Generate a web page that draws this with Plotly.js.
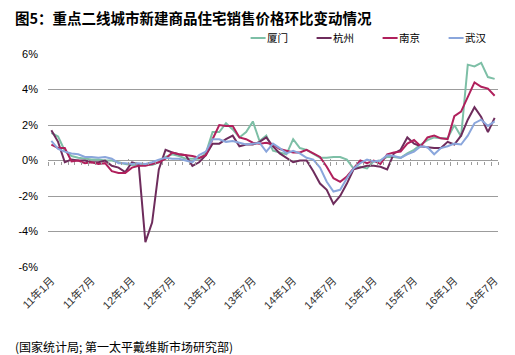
<!DOCTYPE html>
<html>
<head>
<meta charset="utf-8">
<script src="https://cdn.plot.ly/plotly-3.0.1.min.js"></script>
<style>
html,body{margin:0;padding:0;background:#ffffff;}
#chart{width:515px;height:355px;}
#chart .legend .legendlines path{transform:translateX(21px) scaleX(0.5);}
</style>
</head>
<body>
<div id="chart"></div>
<script>
// ---- categories ----
const months = [
  "11年1月","11年2月","11年3月","11年4月","11年5月","11年6月","11年7月","11年8月","11年9月","11年10月","11年11月","11年12月",
  "12年1月","12年2月","12年3月","12年4月","12年5月","12年6月","12年7月","12年8月","12年9月","12年10月","12年11月","12年12月",
  "13年1月","13年2月","13年3月","13年4月","13年5月","13年6月","13年7月","13年8月","13年9月","13年10月","13年11月","13年12月",
  "14年1月","14年2月","14年3月","14年4月","14年5月","14年6月","14年7月","14年8月","14年9月","14年10月","14年11月","14年12月",
  "15年1月","15年2月","15年3月","15年4月","15年5月","15年6月","15年7月","15年8月","15年9月","15年10月","15年11月","15年12月",
  "16年1月","16年2月","16年3月","16年4月","16年5月","16年6月","16年7月"
];
const tickMonths = ["11年1月","11年7月","12年1月","12年7月","13年1月","13年7月","14年1月","14年7月","15年1月","15年7月","16年1月","16年7月"];
const yTickVals = [-6,-4,-2,0,2,4,6];
const yTickText = ["-6%","-4%","-2%","0%","2%","4%","6%"];

// ---- series (month-on-month %) ----
const xiamen = [
  1.55, 1.35, 0.55, 0.25, 0.15, 0.1, 0.05, 0.05, 0.0, 0.0, -0.1, -0.2,
  -0.25, -0.3, -0.2, -0.25, -0.1, 0.2, 0.35, 0.25, 0.1, 0.1, 0.1, 0.4,
  1.6, 1.6, 2.1, 1.75, 1.3, 1.6, 2.2, 1.1, 1.4, 0.55, 0.45, 0.35,
  1.2, 0.7, 0.6, 0.35, 0.15, 0.15, 0.2, 0.2, 0.05, -0.45, -0.35, -0.45,
  -0.05, 0.0, 0.2, 0.2, 0.15, 0.4, 0.6, 0.9, 1.15, 1.3, 1.25, 1.25,
  2.0, 1.35, 5.4, 5.3, 5.5, 4.7, 4.6
];
const hangzhou = [
  1.7, 1.05, -0.1, 0.05, 0.0, 0.0, -0.1, -0.1, 0.0, -0.3, -0.4, -0.65,
  -0.1, -0.2, -4.6, -3.5, -0.5, 0.6, 0.45, 0.35, 0.3, -0.3, -0.1, 0.3,
  0.95, 0.95, 1.2, 1.4, 0.8, 0.9, 0.9, 1.05, 1.3, 0.8, 0.4, 0.15,
  -0.1, 0.0, 0.0, -0.6, -1.3, -1.65, -2.45, -2.0, -1.3, -0.5, -0.4, -0.3,
  -0.3, -0.35, -0.5, 0.4, 0.6, 1.3, 0.95, 0.8, 0.75, 0.7, 0.7, 1.05,
  0.9, 1.4, 2.3, 3.0, 2.45, 1.6, 2.4
];
const nanjing = [
  0.9, 0.7, 0.7, -0.05, 0.0, -0.15, -0.1, -0.2, -0.15, -0.6, -0.7, -0.7,
  -0.4, -0.3, -0.3, -0.2, -0.1, 0.1, 0.45, 0.35, 0.3, 0.25, 0.15, 0.3,
  1.2, 2.0, 1.95, 1.95, 1.3, 1.2, 1.0, 0.95, 1.0, 0.9, 0.65, 0.55,
  0.45, 0.45, 0.6, 0.4, 0.2, -0.35, -1.0, -1.2, -0.9, -0.45, 0.0, -0.15,
  0.0, -0.2, 0.35, 0.45, 0.5, 0.95, 1.15, 0.8, 1.3, 1.4, 1.25, 1.2,
  2.5, 2.75, 3.55, 4.4, 4.15, 4.05, 3.65
];
const wuhan = [
  1.1, 0.65, 0.5, 0.4, 0.35, 0.2, 0.2, 0.15, 0.2, 0.1, -0.15, -0.15,
  -0.2, -0.15, -0.2, -0.1, 0.05, 0.15, 0.1, 0.1, 0.0, -0.1, 0.3, 0.5,
  1.2, 1.2, 1.05, 1.1, 1.0, 0.9, 0.95, 1.0, 0.5, 0.95, 0.7, 0.4,
  0.55, 0.4, 0.15, 0.05, -0.4, -1.2, -1.75, -1.65, -1.0, -0.45, -0.15, 0.05,
  -0.05, 0.0, 0.3, 0.25, 0.15, 0.35, 0.5, 0.8, 0.75, 0.35, 0.7, 0.8,
  0.95, 0.9, 1.4, 2.1, 2.3, 1.95, 2.2
];
const seriesNames = ["厦门","杭州","南京","武汉"];
const seriesData = [xiamen, hangzhou, nanjing, wuhan];

// ---- styles ----
const seriesColors = ["#7dbfa6", "#6e2c5c", "#b0205c", "#8aa6dc"];
const numFont = "Liberation Sans, Arial, Noto Sans CJK SC, sans-serif";
const cjkFont = "Noto Sans CJK SC, sans-serif";
const gridCol = "#9c9c9c";

const traces = seriesData.map((vals, k) => ({
  type: "scatter",
  mode: "lines",
  name: seriesNames[k],
  x: months,
  y: vals,
  xaxis: "x",
  yaxis: "y",
  line: {color: seriesColors[k], width: 2},
  hoverinfo: "skip"
}));

// invisible helper traces so the tick-mark axes at 0% are built
const idx = months.map((m, k) => k);
traces.push({type: "scatter", mode: "lines", x: idx, y: xiamen, xaxis: "x2", yaxis: "y",
  opacity: 0, showlegend: false, hoverinfo: "skip", line: {width: 0}});
traces.push({type: "scatter", mode: "lines", x: idx, y: xiamen, xaxis: "x3", yaxis: "y",
  opacity: 0, showlegend: false, hoverinfo: "skip", line: {width: 0}});

const nCat = months.length;

const layout = {
  width: 515,
  height: 355,
  paper_bgcolor: "#ffffff",
  plot_bgcolor: "#ffffff",
  margin: {l: 48, r: 17, t: 54, b: 88, pad: 0},
  showlegend: true,
  title: {
    text: "<b>图5：重点二线城市新建商品住宅销售价格环比变动情况</b>",
    font: {family: cjkFont, size: 14.5, color: "#000000"},
    x: 15 / 515, xanchor: "left", xref: "container",
    y: 1 - 18.5 / 355, yanchor: "middle", yref: "container"
  },
  legend: {
    orientation: "h",
    x: 0.398, xanchor: "left",
    y: 1.075, yanchor: "middle",
    font: {family: cjkFont, size: 10.5, color: "#000000"},
    bgcolor: "rgba(0,0,0,0)",
    entrywidth: 21, entrywidthmode: "pixels",
    itemwidth: 30,
    traceorder: "normal"
  },
  xaxis: {
    type: "category",
    categoryorder: "array",
    categoryarray: months,
    range: [-0.5, nCat - 0.5],
    tickmode: "array",
    tickvals: tickMonths,
    ticktext: tickMonths,
    tickangle: -45,
    ticks: "",
    showgrid: false,
    showline: false,
    zeroline: false,
    tickfont: {family: numFont, size: 11, color: "#333333"},
    ticklabelstandoff: 4,
    fixedrange: true
  },
  xaxis2: {
    overlaying: "x",
    anchor: "free",
    position: 0.5,
    type: "linear",
    range: [-0.5, nCat - 0.5],
    tick0: -0.5,
    dtick: 6,
    ticks: "outside",
    ticklen: 4,
    tickwidth: 1,
    tickcolor: gridCol,
    minor: {tick0: -0.5, dtick: 1, ticks: "outside", ticklen: 3, tickwidth: 1, tickcolor: gridCol, showgrid: false},
    showticklabels: false,
    showgrid: false,
    showline: false,
    zeroline: false,
    fixedrange: true
  },
  xaxis3: {
    overlaying: "x",
    anchor: "free",
    position: 0.5,
    type: "linear",
    range: [-0.5, nCat - 0.5],
    tick0: -0.5,
    dtick: 6,
    ticks: "inside",
    ticklen: 2,
    tickwidth: 1,
    tickcolor: gridCol,
    showticklabels: false,
    showgrid: false,
    showline: false,
    zeroline: false,
    fixedrange: true
  },
  yaxis: {
    range: [-6, 6],
    tickmode: "array",
    tickvals: yTickVals,
    ticktext: yTickText,
    ticks: "",
    showgrid: true,
    gridcolor: gridCol,
    gridwidth: 1,
    zeroline: true,
    zerolinecolor: gridCol,
    zerolinewidth: 1,
    showline: false,
    tickfont: {family: numFont, size: 11, color: "#000000"},
    ticklabelstandoff: 9,
    fixedrange: true
  },
  annotations: [{
    text: "(国家统计局; 第一太平戴维斯市场研究部)",
    xref: "paper", yref: "paper",
    x: (13 - 48) / 450, xanchor: "left",
    y: (267 - 346) / 213, yanchor: "middle",
    showarrow: false,
    font: {family: cjkFont, size: 12, color: "#000000"}
  }]
};

Plotly.newPlot("chart", traces, layout, {displayModeBar: false, staticPlot: true});
</script>
</body>
</html>
